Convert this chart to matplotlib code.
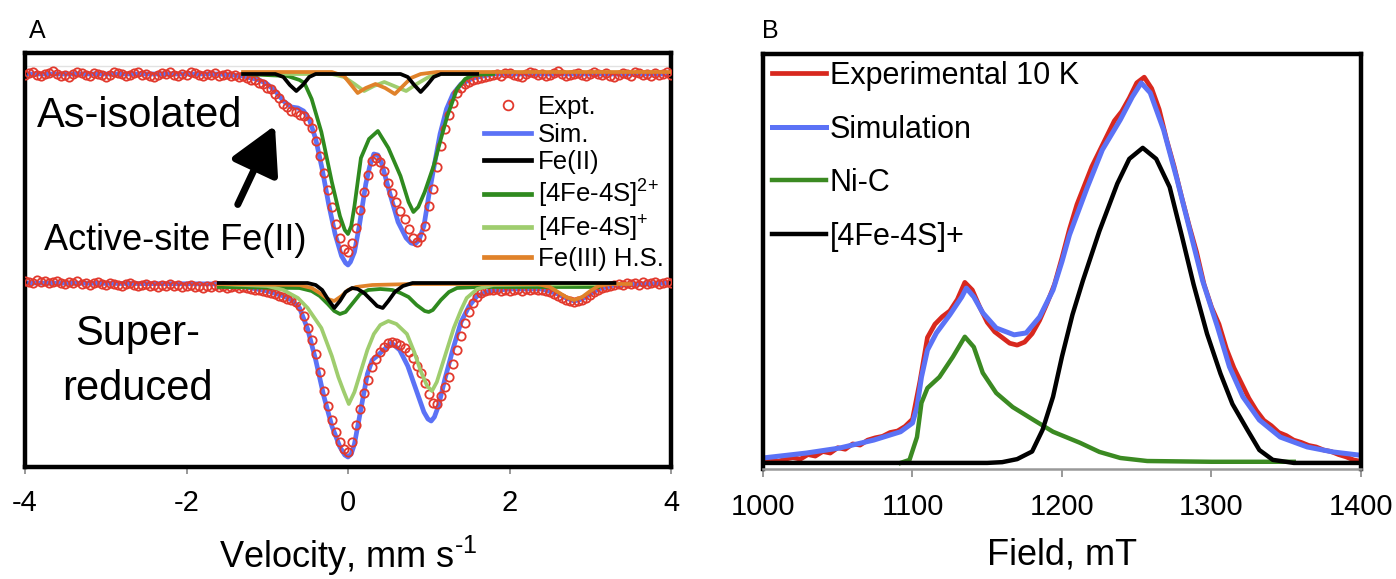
import numpy as np
import matplotlib
matplotlib.use("Agg")
import matplotlib.pyplot as plt
from matplotlib.lines import Line2D

plt.rcParams["font.family"] = ["Liberation Sans", "DejaVu Sans"]
plt.rcParams["mathtext.fontset"] = "custom"
plt.rcParams["mathtext.rm"] = "Liberation Sans"
plt.rcParams["mathtext.it"] = "Liberation Sans:italic"
plt.rcParams["axes.unicode_minus"] = False

# ── Panel A: Mossbauer spectra, absorption in % (0 = baseline) ──────────────
# velocity channels of the experimental data (mm/s)
EXPT_V = np.round(np.arange(-4.0, 4.001, 0.05), 2)

EXPT_ASISO = [
    # -4.00 .. -1.30
    0.01, -0.01, -0.02, 0.01, 0.02, 0.00, -0.01, -0.03, 0.00, 0.02,
    0.01, 0.03, 0.00, -0.02, -0.01, 0.01, 0.02, -0.01, 0.00, 0.01,
    0.03, 0.01, -0.02, -0.01, 0.00, 0.02, 0.01, -0.01, -0.02, 0.01,
    0.00, 0.02, 0.03, 0.01, -0.01, 0.00, -0.02, 0.01, 0.02, 0.00,
    0.01, -0.02, -0.01, 0.01, 0.02, 0.00, 0.01, -0.01, 0.02, 0.01,
    0.00, 0.02, 0.01, 0.03, 0.02,
    # -1.25 .. 1.75
    0.04, 0.06, 0.06, 0.09, 0.10, 0.14, 0.15, 0.20, 0.24, 0.30, 0.33, 0.37, 0.38, 0.41, 0.42,
    0.47, 0.54, 0.67, 0.82, 0.99, 1.16, 1.33, 1.50, 1.64, 1.75,
    1.78, 1.69, 1.54, 1.36, 1.18, 1.01, 0.87, 0.84, 0.88, 0.97, 1.09, 1.19, 1.28, 1.37, 1.45,
    1.55, 1.64, 1.68, 1.63, 1.52, 1.32, 1.15, 0.93, 0.72, 0.55, 0.41, 0.29, 0.19, 0.14, 0.10,
    0.08, 0.06, 0.05, 0.04, 0.03, 0.02,
    # 1.80 .. 4.00
    0.01, 0.00, 0.02, -0.01, -0.01, 0.01, 0.02, 0.03, 0.00, -0.02,
    -0.01, 0.01, 0.00, 0.02, 0.01, -0.01, -0.03, 0.00, 0.02, 0.01,
    0.00, -0.01, 0.01, 0.02, 0.00, -0.02, 0.00, 0.01, -0.01, 0.02,
    0.03, 0.01, -0.01, 0.00, 0.02, -0.02, -0.01, 0.01, 0.00, 0.02,
    -0.01, 0.01, 0.00, -0.02, 0.01,
]
EXPT_SUPER = [
    # -4.00 .. -1.30
    -0.03, -0.02, -0.01, -0.04, -0.02, -0.03, -0.01, -0.02, -0.03, -0.01,
    0.00, -0.02, -0.01, -0.03, 0.00, -0.01, 0.01, -0.01, -0.02, 0.00,
    0.01, -0.01, 0.00, 0.01, 0.02, 0.00, -0.01, 0.01, 0.02, 0.01,
    0.00, 0.02, 0.01, 0.03, 0.01, 0.02, 0.00, 0.02, 0.01, 0.03,
    0.02, 0.01, 0.03, 0.02, 0.04, 0.02, 0.03, 0.01, 0.03, 0.02,
    0.04, 0.03, 0.02, 0.04, 0.03,
    # -1.25 .. 1.75
    0.04, 0.05, 0.06, 0.06, 0.07, 0.08, 0.09, 0.10, 0.12, 0.13, 0.15, 0.16, 0.18, 0.22, 0.32,
    0.44, 0.56, 0.70, 0.88, 1.07, 1.22, 1.36, 1.48, 1.58, 1.65,
    1.68, 1.58, 1.41, 1.25, 1.09, 0.96, 0.83, 0.75, 0.68, 0.63, 0.59, 0.58, 0.59, 0.61, 0.64,
    0.68, 0.74, 0.82, 0.89, 0.99, 1.10, 1.19, 1.20, 1.12, 1.03, 0.93, 0.80, 0.66, 0.52, 0.39,
    0.28, 0.19, 0.13, 0.09, 0.07, 0.06,
    # 1.80 .. 4.00
    0.06, 0.05, 0.07, 0.06, 0.07, 0.06, 0.05, 0.07, 0.05, 0.06,
    0.05, 0.06, 0.06, 0.07, 0.08, 0.10, 0.12, 0.14, 0.16, 0.17,
    0.18, 0.17, 0.16, 0.14, 0.11, 0.08, 0.06, 0.04, 0.03, 0.02,
    0.01, 0.00, 0.01, -0.01, 0.00, -0.01, 0.01, -0.02, 0.00, -0.01,
    -0.02, 0.00, -0.01, -0.02, -0.01,
]

# simulation
SIM_V_ASISO = [-4.0, -1.6, -1.3, -1.1, -1.0, -0.9, -0.8, -0.7, -0.62, -0.55, -0.48, -0.4, -0.32,
               -0.24, -0.16, -0.08, -0.03, 0.0, 0.03, 0.08, 0.14, 0.22, 0.27, 0.32, 0.37, 0.42,
               0.52, 0.62, 0.72, 0.78, 0.83, 0.88, 0.94, 1.0, 1.06, 1.14, 1.22, 1.3, 1.4, 1.55,
               1.8, 4.0]
SIM_ASISO = [0.0, 0.0, 0.02, 0.06, 0.10, 0.17, 0.27, 0.33, 0.34, 0.37, 0.45, 0.65, 0.95,
             1.30, 1.60, 1.82, 1.89, 1.91, 1.88, 1.78, 1.52, 1.10, 0.92, 0.80, 0.81, 0.90,
             1.20, 1.48, 1.64, 1.69, 1.70, 1.66, 1.52, 1.22, 0.95, 0.60, 0.35, 0.20, 0.10, 0.04,
             0.0, 0.0]
SIM_V_SUPER = [-4.0, -1.5, -1.2, -1.0, -0.8, -0.7, -0.6, -0.5, -0.4, -0.3, -0.2, -0.1, -0.04,
               0.0, 0.04, 0.08, 0.16, 0.24, 0.3, 0.36, 0.44, 0.54, 0.64, 0.74, 0.84, 0.94, 0.99,
               1.03, 1.07, 1.12, 1.2, 1.3, 1.4, 1.5, 1.6, 1.75, 2.0, 2.4, 2.6, 2.7, 2.8, 2.9,
               3.0, 3.1, 3.3, 4.0]
SIM_SUPER = [-0.01, 0.0, 0.04, 0.07, 0.12, 0.16, 0.24, 0.45, 0.76, 1.12, 1.42, 1.63, 1.71,
             1.73, 1.70, 1.60, 1.25, 0.90, 0.76, 0.72, 0.66, 0.59, 0.66, 0.82, 1.05, 1.28, 1.35,
             1.37, 1.33, 1.22, 0.95, 0.65, 0.38, 0.22, 0.12, 0.07, 0.05, 0.05, 0.10, 0.14, 0.17,
             0.15, 0.10, 0.05, 0.01, -0.01]

# components, as-isolated
FE2_V_ASISO = [-1.3, -0.9, -0.8, -0.72, -0.64, -0.56, -0.48, -0.4, 0.65, 0.74, 0.82, 0.9, 0.98,
               1.06, 1.15, 1.6]
FE2_ASISO = [0.0, 0.0, 0.03, 0.11, 0.17, 0.11, 0.03, 0.0, 0.0, 0.03, 0.11, 0.18, 0.11, 0.03,
             0.0, 0.0]
OX_V_ASISO = [-1.3, -0.75, -0.6, -0.54, -0.45, -0.33, -0.2, -0.1, -0.04, 0.0, 0.04, 0.08, 0.16,
              0.26, 0.37, 0.5, 0.65, 0.75, 0.81, 0.87, 0.95, 1.06, 1.15, 1.23, 1.35, 1.45, 1.55,
              1.8]
OX_ASISO = [0.0, 0.02, 0.06, 0.09, 0.25, 0.58, 1.08, 1.42, 1.56, 1.60, 1.52, 1.32, 0.84, 0.65,
            0.57, 0.74, 1.02, 1.28, 1.38, 1.33, 1.18, 0.92, 0.65, 0.42, 0.15, 0.05, 0.01, 0.0]
RED_V_ASISO = [-1.3, -0.2, -0.05, 0.08, 0.2, 0.32, 0.45, 0.6, 0.72, 0.85, 1.0, 1.15, 1.6]
RED_ASISO = [0.0, 0.0, 0.03, 0.10, 0.17, 0.12, 0.08, 0.13, 0.17, 0.10, 0.03, 0.0, 0.0]
FE3_V_ASISO = [-1.3, -0.2, -0.05, 0.03, 0.12, 0.22, 0.34, 0.46, 0.58, 0.68, 0.78, 0.9, 1.1, 4.0]
FE3_ASISO = [-0.02, -0.02, 0.02, 0.10, 0.19, 0.14, 0.10, 0.14, 0.20, 0.12, 0.04, 0.0, -0.02,
             -0.02]

# components, super-reduced
FE2_V_SUPER = [-1.6, -0.5, -0.4, -0.32, -0.25, -0.17, -0.1, -0.03, 0.05, 0.12, 0.2, 0.3, 0.36,
               0.43, 0.5, 0.58, 0.68, 0.8, 3.3]
FE2_SUPER = [-0.01, -0.01, 0.01, 0.06, 0.15, 0.24, 0.17, 0.08, 0.04, 0.05, 0.09, 0.17, 0.22,
             0.24, 0.17, 0.08, 0.02, -0.01, -0.01]
OX_V_SUPER = [-1.6, -0.6, -0.45, -0.35, -0.25, -0.17, -0.1, -0.03, 0.05, 0.15, 0.25, 0.4, 0.55,
              0.65, 0.75, 0.85, 0.95, 1.0, 1.05, 1.15, 1.25, 1.35, 1.6, 3.1]
OX_SUPER = [0.03, 0.04, 0.07, 0.12, 0.20, 0.27, 0.30, 0.28, 0.20, 0.10, 0.06, 0.05, 0.06, 0.09,
            0.13, 0.21, 0.27, 0.28, 0.26, 0.16, 0.08, 0.04, 0.03, 0.03]
RED_V_SUPER = [-1.6, -1.0, -0.8, -0.62, -0.5, -0.33, -0.2, -0.12, -0.05, 0.01, 0.08, 0.16, 0.24,
               0.32, 0.4, 0.5, 0.6, 0.73, 0.82, 0.9, 0.98, 1.04, 1.1, 1.17, 1.24, 1.31, 1.4,
               1.47, 1.6, 1.8, 3.1]
RED_SUPER = [0.0, 0.02, 0.06, 0.14, 0.24, 0.44, 0.72, 0.93, 1.08, 1.20, 1.08, 0.87, 0.66, 0.50,
             0.41, 0.37, 0.40, 0.50, 0.68, 0.87, 1.02, 1.07, 0.98, 0.80, 0.62, 0.44, 0.26, 0.14,
             0.05, 0.01, 0.0]
FE3_V_SUPER = [-1.6, -0.6, -0.45, -0.35, -0.25, -0.17, -0.08, 0.0, 0.1, 0.3, 0.8, 2.35, 2.5,
               2.6, 2.7, 2.8, 2.9, 3.0, 3.1, 3.25, 3.5]
FE3_SUPER = [0.0, 0.01, 0.04, 0.09, 0.15, 0.17, 0.12, 0.06, 0.03, 0.01, 0.0, 0.0, 0.03, 0.08,
             0.13, 0.16, 0.13, 0.07, 0.02, 0.0, 0.0]

SUPER_OFFSET = 2.10   # vertical shift of the super-reduced trace (%)

# ── Panel B: EPR, normalised intensity ──────────────────────────────────────
EPR_FIELD = np.arange(1000, 1401, 5)
EPR_EXPT = [
    0.005, 0.012, 0.004, 0.010, 0.014, 0.010, 0.022, 0.018, 0.030, 0.026,
    0.040, 0.036, 0.050, 0.047, 0.060, 0.066, 0.070, 0.080, 0.084, 0.096,
    0.115, 0.215, 0.330, 0.365, 0.385, 0.400, 0.430, 0.475, 0.455, 0.410,
    0.370, 0.345, 0.330, 0.315, 0.310, 0.318, 0.340, 0.375, 0.420, 0.470,
    0.540, 0.615, 0.680, 0.730, 0.780, 0.820, 0.860, 0.900, 0.925, 0.960,
    1.000, 1.015, 0.985, 0.930, 0.850, 0.780, 0.700, 0.625, 0.555, 0.470,
    0.410, 0.365, 0.300, 0.250, 0.210, 0.170, 0.138, 0.112, 0.098, 0.080,
    0.072, 0.060, 0.054, 0.046, 0.042, 0.034, 0.030, 0.022, 0.016, 0.008,
    0.004,
]
SIM_FIELD = [1000, 1029, 1051, 1074, 1092, 1100, 1103, 1106, 1110, 1116, 1125, 1133, 1136, 1141,
             1147, 1156, 1168, 1176, 1185, 1194, 1200, 1205, 1217, 1227, 1239, 1247, 1253, 1259,
             1268, 1277, 1286, 1294, 1304, 1312, 1321, 1332, 1346, 1364, 1381, 1400]
EPR_SIM = [0.013, 0.026, 0.039, 0.060, 0.082, 0.105, 0.147, 0.226, 0.297, 0.342, 0.390, 0.437,
           0.460, 0.437, 0.395, 0.355, 0.337, 0.342, 0.384, 0.455, 0.530, 0.600, 0.726, 0.824,
           0.903, 0.963, 1.000, 0.974, 0.876, 0.745, 0.605, 0.480, 0.358, 0.253, 0.174, 0.113,
           0.068, 0.042, 0.029, 0.020]
NIC_FIELD = [1092, 1098, 1103, 1106, 1110, 1118, 1127, 1135, 1141, 1147, 1156, 1167, 1181, 1194,
             1212, 1225, 1239, 1257, 1300, 1355]
EPR_NIC = [0.0, 0.008, 0.068, 0.158, 0.197, 0.226, 0.279, 0.332, 0.305, 0.237, 0.184, 0.147,
           0.113, 0.082, 0.053, 0.029, 0.013, 0.005, 0.003, 0.003]
FES_FIELD = [1000, 1150, 1160, 1170, 1180, 1187, 1194, 1200, 1207, 1214, 1225, 1237, 1245, 1254,
             1263, 1272, 1280, 1288, 1297, 1306, 1314, 1324, 1332, 1341, 1355, 1400]
EPR_FES = [0.0, 0.0, 0.002, 0.010, 0.030, 0.087, 0.174, 0.280, 0.390, 0.480, 0.610, 0.735,
           0.800, 0.829, 0.800, 0.726, 0.600, 0.470, 0.340, 0.235, 0.155, 0.087, 0.034, 0.008,
           0.0, 0.0]

C_RED = "#e2392d"
C_BLUE = "#5b72f6"
C_GREEN = "#2f8a1f"
C_LGREEN = "#9fcd6e"
C_ORANGE = "#e0822a"

W, H = 1396, 579
fig = plt.figure(figsize=(W / 100, H / 100), dpi=100)


def px_axes(l, t, r, b):
    return fig.add_axes([l / W, 1 - b / H, (r - l) / W, (b - t) / H])


def trans(a, shift=0.0):
    return 100.0 - np.asarray(a) - shift


# ── Panel A ────────────────────────────────────────────────────────────────
axA = px_axes(25, 53, 671, 467)

axA.axhline(100.08, color="#e2e2e2", lw=1.0, zorder=1)
for shift in (0.0, SUPER_OFFSET):
    sup = shift > 0
    axA.plot(SIM_V_SUPER if sup else SIM_V_ASISO,
             trans(SIM_SUPER if sup else SIM_ASISO, shift), color=C_BLUE, lw=3.4, zorder=2)
    axA.plot(EXPT_V, trans(EXPT_SUPER if sup else EXPT_ASISO, shift), ls="none",
             marker="o", ms=6, mfc="none", mec=C_RED, mew=1.3, zorder=3)
    axA.plot(OX_V_SUPER if sup else OX_V_ASISO,
             trans(OX_SUPER if sup else OX_ASISO, shift), color=C_GREEN, lw=2.7, zorder=4)
    axA.plot(RED_V_SUPER if sup else RED_V_ASISO,
             trans(RED_SUPER if sup else RED_ASISO, shift), color=C_LGREEN, lw=2.7, zorder=4)
    axA.plot(FE3_V_SUPER if sup else FE3_V_ASISO,
             trans(FE3_SUPER if sup else FE3_ASISO, shift), color=C_ORANGE, lw=2.7, zorder=5)
    axA.plot(FE2_V_SUPER if sup else FE2_V_ASISO,
             trans(FE2_SUPER if sup else FE2_ASISO, shift), color="black", lw=2.7, zorder=6)

axA.set_xlim(-4, 4)
axA.set_ylim(96.07, 100.21)
axA.set_yticks([])
axA.set_xticks([-4, -2, 0, 2, 4])
axA.tick_params(axis="x", direction="out", length=5, width=1.2, color="#888888",
                labelsize=21, pad=11)
for sp in axA.spines.values():
    sp.set_linewidth(3.2)
axA.set_xlabel(r"Velocity, mm s$^{\text{-}1}$", fontsize=26, labelpad=12)

axA.text(-3.85, 99.47, "As-isolated", fontsize=30, va="baseline")
axA.text(-3.76, 98.24, "Active-site Fe(II)", fontsize=26, va="baseline")
axA.text(-2.61, 97.29, "Super-", fontsize=30, va="baseline", ha="center")
axA.text(-2.61, 96.74, "reduced", fontsize=30, va="baseline", ha="center")
axA.annotate("", xy=(-0.89, 99.51), xytext=(-1.38, 98.67),
             arrowprops=dict(arrowstyle="-|>,head_length=1.1,head_width=0.6",
                             lw=5, color="black", mutation_scale=26))

handlesA = [
    Line2D([], [], ls="none", marker="o", ms=7, mfc="none", mec=C_RED, mew=1.3),
    Line2D([], [], color=C_BLUE, lw=3.4),
    Line2D([], [], color="black", lw=3.4),
    Line2D([], [], color=C_GREEN, lw=3.4),
    Line2D([], [], color=C_LGREEN, lw=3.4),
    Line2D([], [], color=C_ORANGE, lw=3.4),
]
labelsA = ["Expt.", "Sim.", "Fe(II)", r"[4Fe-4S]$^{\text{2+}}$", r"[4Fe-4S]$^{\text{+}}$",
           "Fe(III) H.S."]
fig.legend(handlesA, labelsA, loc="upper left", bbox_to_anchor=(484 / W, 1 - 95 / H),
           frameon=False, fontsize=18.5, handlelength=1.83, handletextpad=0.27,
           labelspacing=0.14, borderpad=0, borderaxespad=0, numpoints=1)

# ── Panel B ────────────────────────────────────────────────────────────────
axB = px_axes(763, 54, 1361, 469)
axB.plot(EPR_FIELD, EPR_EXPT, color="#d8281e", lw=3.4, label="Experimental 10 K")
axB.plot(SIM_FIELD, EPR_SIM, color=C_BLUE, lw=3.6, label="Simulation")
axB.plot(NIC_FIELD, EPR_NIC, color="#3b8a22", lw=3.2, label="Ni-C")
axB.plot(FES_FIELD, EPR_FES, color="black", lw=3.2, label="[4Fe-4S]+")
axB.set_xlim(1000, 1400)
axB.set_ylim(-0.016, 1.076)
axB.set_yticks([])
axB.set_xticks([1000, 1100, 1200, 1300, 1400])
axB.tick_params(axis="x", direction="out", length=6, width=1.2, color="#888888",
                labelsize=21, pad=11)
for sp in axB.spines.values():
    sp.set_linewidth(3.2)
axB.spines["bottom"].set_color("#999999")
axB.spines["bottom"].set_linewidth(1.8)
axB.set_xlabel("Field, mT", fontsize=26, labelpad=12)
axB.legend(loc="upper left", bbox_to_anchor=(772 / W, 1 - 61 / H),
           bbox_transform=fig.transFigure, frameon=False, fontsize=22,
           handlelength=1.76, handletextpad=0.13, labelspacing=0.77,
           borderpad=0, borderaxespad=0)

fig.text(29 / W, 1 - 38 / H, "A", fontsize=18, va="baseline")
fig.text(762 / W, 1 - 38 / H, "B", fontsize=18, va="baseline")

fig.savefig("out.png", dpi=100)
